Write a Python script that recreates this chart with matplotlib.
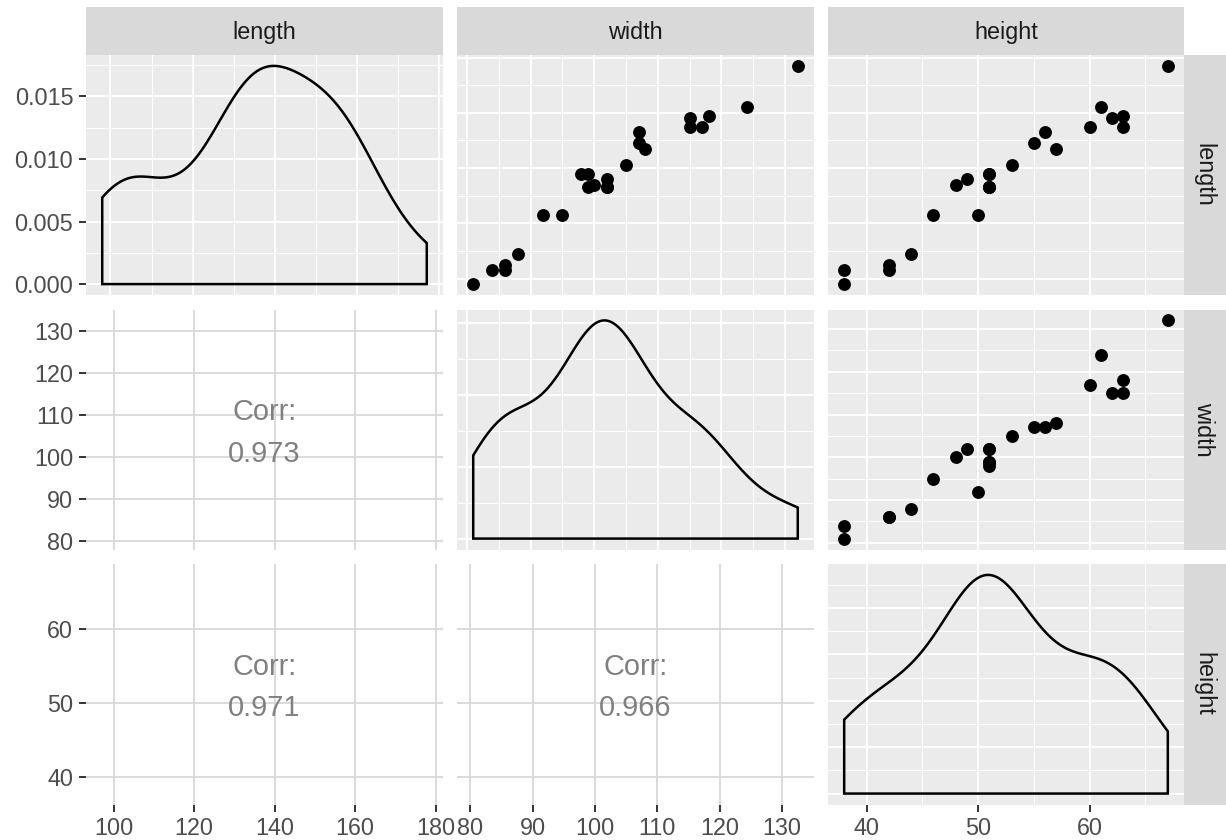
import numpy as np
import matplotlib
matplotlib.use("Agg")
import matplotlib.pyplot as plt
from matplotlib.patches import Polygon, Rectangle
from matplotlib.ticker import FormatStrFormatter
import matplotlib.transforms as mtransforms

plt.rcParams['font.family'] = ['Liberation Sans', 'DejaVu Sans']

# ---------------- data ----------------
variables = ['length', 'width', 'height']
length = [98, 103, 103, 105, 109, 123, 123, 133, 133, 133, 134, 136,
          138, 138, 141, 147, 149, 153, 155, 155, 158, 159, 162, 177]
width = [81, 84, 86, 86, 88, 92, 95, 99, 102, 102, 100, 102,
         98, 99, 105, 108, 107, 107, 115, 117, 115, 118, 124, 132]
height = [38, 38, 42, 42, 44, 50, 46, 51, 51, 51, 48, 49,
          51, 51, 53, 57, 55, 56, 63, 60, 62, 63, 61, 67]
corr_labels = {(1, 0): '0.973', (2, 0): '0.971', (2, 1): '0.966'}

major_breaks = {
    'length': [100, 120, 140, 160, 180],
    'width': [80, 90, 100, 110, 120, 130],
    'height': [40, 50, 60],
}
density_step = {'length': 0.005, 'width': 0.01, 'height': 0.01}

data = {'length': np.array(length, float),
        'width': np.array(width, float),
        'height': np.array(height, float)}

# ---------------- styling ----------------
W, H = 1226, 840
fig = plt.figure(figsize=(W / 100, H / 100), dpi=100)
fig.patch.set_facecolor('white')

col_x = [(86, 443), (457, 814), (828, 1184)]
row_y = [(55, 295), (309.5, 549.5), (564, 804.5)]

PANEL_BG = '#EBEBEB'
STRIP_BG = '#D9D9D9'
AXIS_TXT = '#4D4D4D'
STRIP_TXT = '#1A1A1A'
TICK_COL = '#333333'
FS = 16.8


def add_ax(x0, x1, y0, y1):
    return fig.add_axes([x0 / W, 1 - y1 / H, (x1 - x0) / W, (y1 - y0) / H])


def expand(v, f=0.05):
    lo, hi = np.min(v), np.max(v)
    r = hi - lo
    return lo - f * r, hi + f * r


def minor_from(major, lo, hi):
    step = major[1] - major[0]
    cand = np.arange(major[0] - step / 2, major[-1] + step, step)
    return [c for c in cand if lo <= c <= hi]


def kde_nrd0(x):
    x = np.asarray(x, float)
    n = len(x)
    sd = np.std(x, ddof=1)
    iqr = np.percentile(x, 75) - np.percentile(x, 25)
    lo = min(sd, iqr / 1.34)
    bw = 0.9 * lo * n ** (-0.2)
    grid = np.linspace(x.min(), x.max(), 512)
    z = (grid[:, None] - x[None, :]) / bw
    dens = np.exp(-0.5 * z ** 2).sum(axis=1) / (n * bw * np.sqrt(2 * np.pi))
    return grid, dens


def style_axis(ax, xmaj, xmin_, ymaj, ymin_, grey_panel, show_left, show_bottom):
    for s in ax.spines.values():
        s.set_visible(False)
    ax.set_xticks(xmaj)
    ax.set_yticks(ymaj)
    if grey_panel:
        ax.set_facecolor(PANEL_BG)
        ax.set_xticks(xmin_, minor=True)
        ax.set_yticks(ymin_, minor=True)
        ax.grid(which='major', color='white', lw=1.3)
        ax.grid(which='minor', color='white', lw=0.7)
    else:
        ax.set_facecolor('white')
        ax.grid(which='major', color='#D9D9D9', lw=1.35)
    ax.set_axisbelow(True)
    ax.tick_params(which='minor', length=0)
    ax.tick_params(axis='both', which='major', colors=TICK_COL, labelcolor=AXIS_TXT,
                   labelsize=FS, length=4.8, width=1.4, pad=4.3)
    ax.tick_params(axis='x', which='major', bottom=show_bottom, labelbottom=show_bottom)
    ax.tick_params(axis='y', which='major', left=show_left, labelleft=show_left)


for i, vy in enumerate(variables):
    for j, vx in enumerate(variables):
        (x0, x1), (y0, y1) = col_x[j], row_y[i]
        ax = add_ax(x0, x1, y0, y1)
        show_left = (j == 0)
        show_bottom = (i == 2)
        if i == j:
            gx, gd = kde_nrd0(data[vx])
            xl = expand(data[vx])
            dmax = gd.max()
            yl = (-0.05 * dmax, 1.05 * dmax)
            verts = [(gx[0], 0)] + list(zip(gx, gd)) + [(gx[-1], 0)]
            ax.add_patch(Polygon(verts, closed=True, facecolor='none',
                                 edgecolor='black', lw=1.8, joinstyle='miter'))
            ax.set_xlim(*xl)
            ax.set_ylim(*yl)
            step = density_step[vx]
            ymaj = list(np.arange(0, yl[1], step))
            xmaj = [b for b in major_breaks[vx] if xl[0] <= b <= xl[1]]
            style_axis(ax, xmaj, minor_from(xmaj, *xl), ymaj, minor_from(ymaj, *yl),
                       True, show_left, show_bottom)
            ax.yaxis.set_major_formatter(FormatStrFormatter('%.3f'))
        elif i < j:
            xl = expand(data[vx])
            yl = expand(data[vy])
            ax.scatter(data[vx], data[vy], s=86, color='black', linewidths=0, zorder=3)
            ax.set_xlim(*xl)
            ax.set_ylim(*yl)
            xmaj = [b for b in major_breaks[vx] if xl[0] <= b <= xl[1]]
            ymaj = [b for b in major_breaks[vy] if yl[0] <= b <= yl[1]]
            style_axis(ax, xmaj, minor_from(xmaj, *xl), ymaj, minor_from(ymaj, *yl),
                       True, show_left, show_bottom)
        else:
            xl = expand(data[vx], 0.0615)
            yl = expand(data[vy], 0.0615)
            ax.set_xlim(*xl)
            ax.set_ylim(*yl)
            xmaj = [b for b in major_breaks[vx] if xl[0] <= b <= xl[1]]
            ymaj = [b for b in major_breaks[vy] if yl[0] <= b <= yl[1]]
            style_axis(ax, xmaj, [], ymaj, [], False, show_left, show_bottom)
            t1 = mtransforms.offset_copy(ax.transAxes, fig=fig, x=0, y=9.5, units='dots')
            t2 = mtransforms.offset_copy(ax.transAxes, fig=fig, x=0, y=-32, units='dots')
            ax.text(0.5, 0.5, 'Corr:', transform=t1, ha='center', va='baseline',
                    fontsize=20.8, color='#808080')
            ax.text(0.5, 0.5, corr_labels[(i, j)], transform=t2, ha='center',
                    va='baseline', fontsize=20.8, color='#808080')

# top strips
for j, v in enumerate(variables):
    x0, x1 = col_x[j]
    fig.add_artist(Rectangle((x0 / W, 1 - 55 / H), (x1 - x0) / W, 48 / H,
                             transform=fig.transFigure, facecolor=STRIP_BG,
                             edgecolor='none'))
    fig.text((x0 + x1) / 2 / W, 1 - 32.5 / H, v, ha='center', va='center',
             fontsize=FS, color=STRIP_TXT)

# right strips
for i, v in enumerate(variables):
    y0, y1 = row_y[i]
    fig.add_artist(Rectangle((1184 / W, 1 - y1 / H), 48 / W, (y1 - y0) / H,
                             transform=fig.transFigure, facecolor=STRIP_BG,
                             edgecolor='none'))
    fig.text(1203.5 / W, 1 - (y0 + y1) / 2 / H, v, ha='center', va='center',
             rotation=270, fontsize=FS, color=STRIP_TXT)

fig.savefig('out.png', dpi=100, facecolor='white')
